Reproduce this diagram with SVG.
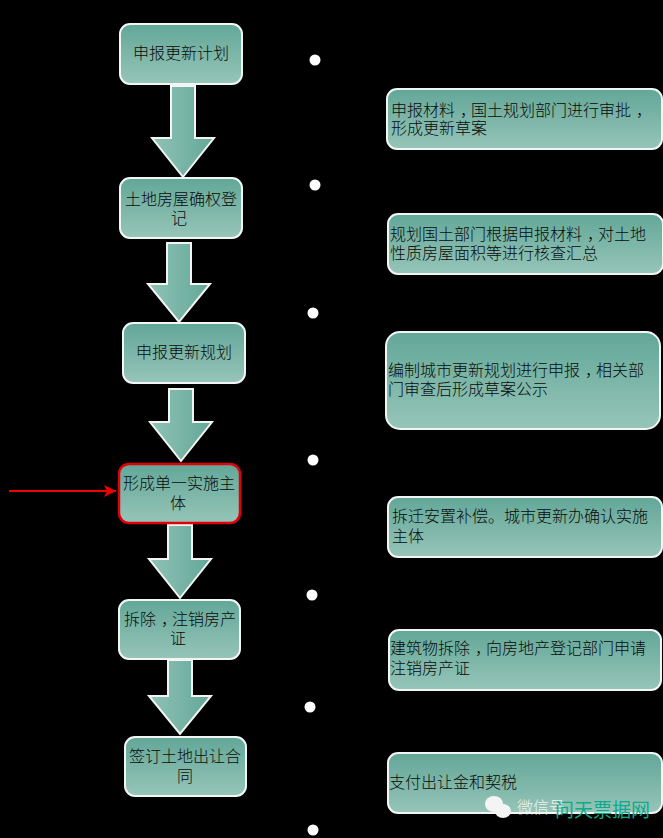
<svg xmlns="http://www.w3.org/2000/svg" width="663" height="838" viewBox="0 0 663 838">
<style>
text{font-family:"Noto Sans CJK SC","Liberation Sans",sans-serif;font-size:16px;font-weight:300;fill:#0a0a0a}
.c{text-anchor:middle}
.n{stroke:#f2f5f3;stroke-width:2;fill:url(#g)}
.r{stroke:#e0000c;stroke-width:2.5;fill:url(#g)}
.a{stroke:#f2f5f3;stroke-width:2;fill:url(#h);stroke-linejoin:miter}
.d{fill:#fff}
</style>
<defs>
<linearGradient id="g" x1="0" y1="0" x2="0" y2="1"><stop offset="0" stop-color="#62a798"/><stop offset="1" stop-color="#96c5b8"/></linearGradient>
<linearGradient id="h" x1="0" y1="0" x2="1" y2="0"><stop offset="0" stop-color="#90c3b6"/><stop offset="1" stop-color="#62a798"/></linearGradient>
<marker id="m" markerWidth="13" markerHeight="12" refX="12" refY="6" orient="auto" markerUnits="userSpaceOnUse"><path d="M0 0L12 6L0 12L3 6Z" fill="#f00000"/></marker>
</defs>
<rect width="663" height="838" fill="#000"/>
<g id="connectors">
<path class="a" d="M171 86H195V138H214L183 177L152 138H171Z"/>
<path class="a" d="M167 243H191V284H210L179 322L148 284H167Z"/>
<path class="a" d="M169 389H193V422H212L181 461L150 422H169Z"/>
<path class="a" d="M168 525H192V559H211L180 598L149 559H168Z"/>
<path class="a" d="M168 660H192V696H211L180 734L149 696H168Z"/>
<line x1="9" y1="491" x2="116" y2="491" stroke="#f00000" stroke-width="1.8" marker-end="url(#m)"/>
</g>
<g id="n1"><rect class="n" x="120" y="24" width="122" height="60" rx="10"/><text class="c" x="181" y="59">申报更新计划</text></g>
<g id="n2"><rect class="n" x="120" y="178" width="122" height="60" rx="10"/><text class="c"><tspan x="181" y="205">土地房屋确权登</tspan><tspan x="179" y="224">记</tspan></text></g>
<g id="n3"><rect class="n" x="123" y="323" width="122" height="60" rx="10"/><text class="c" x="184" y="358">申报更新规划</text></g>
<g id="n4"><rect class="r" x="119" y="464" width="121" height="59" rx="10"/><text class="c"><tspan x="179" y="489">形成单一实施主</tspan><tspan x="178" y="509">体</tspan></text></g>
<g id="n5"><rect class="n" x="119" y="600" width="121" height="59" rx="10"/><text class="c"><tspan x="180" y="625">拆除<tspan dx="5">，</tspan><tspan dx="-5">注销房产</tspan></tspan><tspan x="178" y="644">证</tspan></text></g>
<g id="n6"><rect class="n" x="125" y="737" width="121" height="59" rx="10"/><text class="c"><tspan x="185" y="762">签订土地出让合</tspan><tspan x="185" y="782">同</tspan></text></g>
<g id="dots">
<circle class="d" cx="315" cy="60" r="5.5"/><circle class="d" cx="315" cy="185" r="5.5"/><circle class="d" cx="313" cy="313" r="5.5"/><circle class="d" cx="313" cy="460" r="5.5"/><circle class="d" cx="312" cy="595" r="5.5"/><circle class="d" cx="310" cy="707" r="5.5"/><circle class="d" cx="313" cy="830" r="5.5"/>
</g>
<g id="t1"><rect class="n" x="387" y="89" width="275" height="60" rx="10"/><text><tspan x="391" y="116">申报材料<tspan dx="5">，</tspan><tspan dx="-5">国土规划部门进行审批</tspan><tspan dx="5">，</tspan></tspan><tspan x="391" y="134">形成更新草案</tspan></text></g>
<g id="t2"><rect class="n" x="388" y="214" width="275" height="60" rx="10"/><text><tspan x="390" y="240">规划国土部门根据申报材料<tspan dx="5">，</tspan><tspan dx="-5">对土地</tspan></tspan><tspan x="390" y="259">性质房屋面积等进行核查汇总</tspan></text></g>
<g id="t3"><rect class="n" x="386" y="332" width="274" height="97" rx="14"/><text><tspan x="388" y="376">编制城市更新规划进行申报<tspan dx="5">，</tspan><tspan dx="-5">相关部</tspan></tspan><tspan x="388" y="395">门审查后形成草案公示</tspan></text></g>
<g id="t4"><rect class="n" x="388" y="497" width="274" height="60" rx="10"/><text><tspan x="392" y="522">拆迁安置补偿。城市更新办确认实施</tspan><tspan x="392" y="542">主体</tspan></text></g>
<g id="t5"><rect class="n" x="389" y="630" width="272" height="60" rx="10"/><text><tspan x="390" y="654">建筑物拆除<tspan dx="5">，</tspan><tspan dx="-5">向房地产登记部门申请</tspan></tspan><tspan x="390" y="674">注销房产证</tspan></text></g>
<g id="t6"><rect class="n" x="388" y="753" width="274" height="60" rx="10"/><text x="389" y="788">支付出让金和契税</text></g>
<g id="watermark">
<ellipse cx="494" cy="804" rx="9" ry="8" fill="#f4f4f4"/><ellipse cx="503" cy="811" rx="8" ry="7" fill="#f4f4f4"/>
<text x="517" y="813" style="fill:#eef2f0">微信号</text>
<text x="555" y="817" style="fill:#10a98c;font-size:19px;font-weight:400">问天票据网</text>
</g>
</svg>
